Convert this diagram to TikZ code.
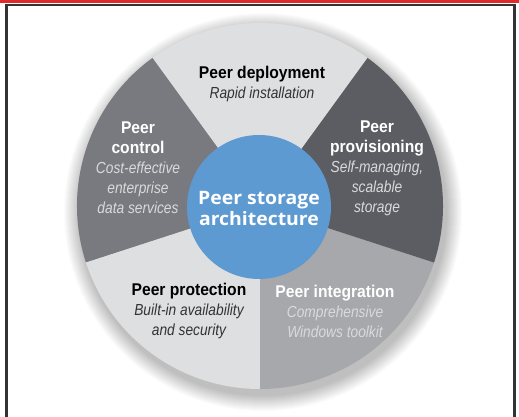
\documentclass[tikz,border=0pt]{standalone}
\usepackage{fontspec}
\usetikzlibrary{calc}
\setmainfont{Liberation Sans}
\newfontfamily\condfont[FakeStretch=0.86]{Liberation Sans}
\newfontfamily\boldcond[FakeStretch=0.92]{Liberation Sans}
\newfontfamily\widefont[FakeStretch=1.05]{Open Sans}
\newcommand{\hdline}[1]{{\boldcond\bfseries\fontsize{17}{20}\selectfont #1}}
\newcommand{\itline}[1]{{\condfont\itshape\fontsize{16}{20}\selectfont #1}}
\definecolor{redbar}{HTML}{E1282C}
\definecolor{framecol}{HTML}{333333}
\definecolor{seglight}{HTML}{DEDFE0}
\definecolor{segmid}{HTML}{797A7F}
\definecolor{segdark}{HTML}{5C5D62}
\definecolor{segbr}{HTML}{A7A8AC}
\definecolor{hubblue}{HTML}{5E9AD2}
\definecolor{italight}{HTML}{DADADC}
\definecolor{itadark}{HTML}{333333}
\tikzset{
  darklabel/.style={align=center, text=white, font=\condfont\fontsize{16}{20}\selectfont},
  lightlabel/.style={align=center, text=black, font=\condfont\fontsize{16}{20}\selectfont},
  hublabel/.style={align=center, text=white, font=\widefont\bfseries\fontsize{18.5}{21}\selectfont},
}
\begin{document}
\begin{tikzpicture}[x=1pt,y=1pt]
\useasboundingbox (0,0) rectangle (519,417);
\fill[white] (0,0) rectangle (519,417);
\fill[redbar] (0,413.5) rectangle (519,417);
\draw[framecol, line width=2.5] (6.5,-5) -- (6.5,412.2) -- (514.5,412.2) -- (514.5,-5);
\coordinate (c) at (260,211);
% soft shadow
\foreach \i in {0,...,15}{
  \fill[black, opacity=0.016] ($(c)+(3,-6)$) circle[radius=183+16-\i];
}
% segments
\fill[seglight] (c) -- ++(54:183) arc[start angle=54, end angle=126, radius=183] -- cycle;
\fill[segmid] (c) -- ++(126:183) arc[start angle=126, end angle=198, radius=183] -- cycle;
\fill[seglight] (c) -- ++(198:183) arc[start angle=198, end angle=270, radius=183] -- cycle;
\fill[segbr] (c) -- ++(270:183) arc[start angle=270, end angle=342, radius=183] -- cycle;
\fill[segdark] (c) -- ++(342:183) arc[start angle=342, end angle=414, radius=183] -- cycle;
% hub
\node[circle, fill=hubblue, minimum size=144, inner sep=0] (hub) at (259,210) {};
\node[hublabel] (hubtext) at (259,209) {Peer storage\\architecture};
% labels
\node[lightlabel] (deploy) at (262,333) {\hdline{Peer deployment}\\\color{itadark}\itline{Rapid installation}};
\node[darklabel] (control) at (138,249) {\hdline{Peer}\\\hdline{control}\\\color{italight}\itline{Cost-effective}\\\color{italight}\itline{enterprise}\\\color{italight}\itline{data services}};
\node[darklabel] (prov) at (377,249) {\hdline{Peer}\\\hdline{provisioning}\\\color{italight}\itline{Self-managing,}\\\color{italight}\itline{scalable}\\\color{italight}\itline{storage}};
\node[lightlabel] (prot) at (189,106) {\hdline{Peer protection}\\\color{itadark}\itline{Built-in availability}\\\color{itadark}\itline{and security}};
\node[darklabel] (integ) at (335,106) {\hdline{Peer integration}\\\color{italight}\itline{Comprehensive}\\\color{italight}\itline{Windows toolkit}};
\end{tikzpicture}
\end{document}
